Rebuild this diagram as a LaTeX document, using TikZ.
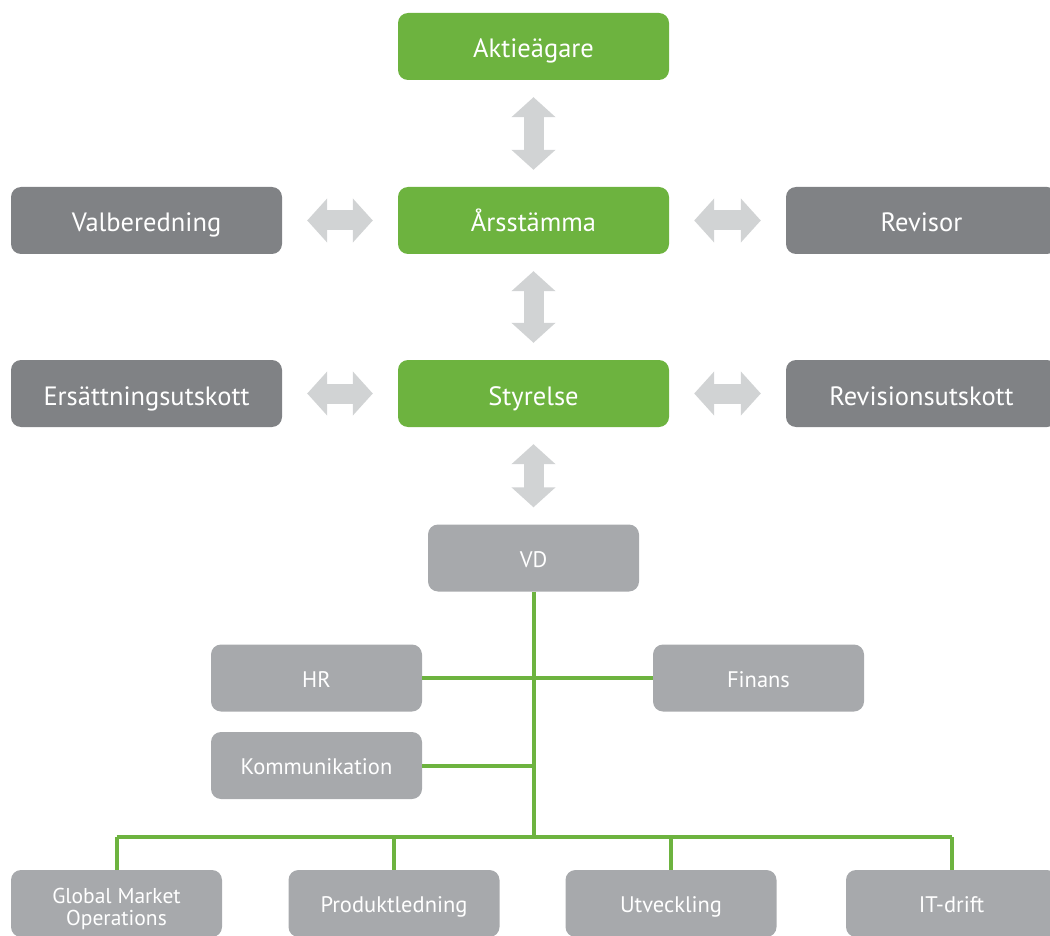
\documentclass[tikz,border=0pt]{standalone}
\usepackage{fontspec}
\setmainfont{PT Sans}
\usetikzlibrary{arrows.meta}
\definecolor{boardgreen}{HTML}{6DB33F}
\definecolor{darkbox}{HTML}{808285}
\definecolor{lightbox}{HTML}{A7A9AC}
\definecolor{arrowgray}{HTML}{D1D3D4}
\tikzset{
    govbox/.style={rounded corners=10pt, minimum width=271pt, minimum height=67pt,
        text=white, font=\fontsize{26.5}{28}\selectfont, inner sep=0pt,
        text height=23pt, text depth=0pt},
    greenbox/.style={govbox, fill=boardgreen},
    graybox/.style={govbox, fill=darkbox},
    orgbox/.style={rounded corners=10pt, minimum width=211pt, minimum height=67pt,
        text=white, fill=lightbox, font=\fontsize{22.5}{24}\selectfont, inner sep=0pt,
        align=center, text height=18pt, text depth=0pt},
    bigarrow/.style={draw=arrowgray, line width=20pt,
        {Triangle[length=20pt,width=43pt]}-{Triangle[length=20pt,width=43pt]},
        shorten <=#1, shorten >=#1},
    orgline/.style={draw=boardgreen, line width=4pt}
}
\begin{document}
\begin{tikzpicture}[x=1pt, y=-1pt]
    \useasboundingbox (0,0) rectangle (1050,936);
    \clip (0,0) rectangle (1050,936);
    \def\leftx{146.5}
    \def\midx{533.5}
    \def\rightx{921.5}
    % governance
    \node[greenbox] (aktie) at (\midx, 46.5) {Aktieägare};
    \node[greenbox] (stamma) at (\midx, 220.5) {Årsstämma};
    \node[greenbox] (styrelse) at (\midx, 393.5) {Styrelse};
    \node[graybox] (valb) at (\leftx, 220.5) {Valberedning};
    \node[graybox] (revisor) at (\rightx, 220.5) {Revisor};
    \node[graybox] (ersutsk) at (\leftx, 393.5) {Ersättningsutskott};
    \node[graybox] (revutsk) at (\rightx, 393.5) {Revisionsutskott};
    % management
    \node[orgbox] (vd) at (\midx, 558) {VD};
    \node[orgbox] (hr) at (316.5, 678) {HR};
    \node[orgbox] (finans) at (758.5, 678) {Finans};
    \node[orgbox] (komm) at (316.5, 765.5) {Kommunikation};
    \node[orgbox, font=\fontsize{21.5}{22}\selectfont, text height=43pt]
        (gmo) at (116.5, 903.5) {Global Market\\Operations};
    \node[orgbox] (prod) at (394, 903.5) {Produktledning};
    \node[orgbox] (utv) at (671, 903.5) {Utveckling};
    \node[orgbox] (itd) at (951.5, 903.5) {IT-drift};
    % double arrows
    \draw[bigarrow=17pt] (aktie.south) -- (stamma.north);
    \draw[bigarrow=17pt] (stamma.south) -- (styrelse.north);
    \draw[bigarrow=17pt] (styrelse.south) -- (vd.north);
    \draw[bigarrow=25pt] (valb.east) -- (stamma.west);
    \draw[bigarrow=25pt] (stamma.east) -- (revisor.west);
    \draw[bigarrow=25pt] (ersutsk.east) -- (styrelse.west);
    \draw[bigarrow=25pt] (styrelse.east) -- (revutsk.west);
    % green lines
    \coordinate (hub) at (\midx, 837);
    \draw[orgline] (vd.south) -- (hub);
    \draw[orgline] (hr.east) -- (finans.west);
    \draw[orgline] (komm.east) -- (komm.east -| hub);
    \draw[orgline] (gmo.north |- hub) -- (itd.north |- hub);
    \foreach \unit in {gmo, prod, utv, itd}
        \draw[orgline] (\unit.north |- hub) -- (\unit.north);
\end{tikzpicture}
\end{document}
